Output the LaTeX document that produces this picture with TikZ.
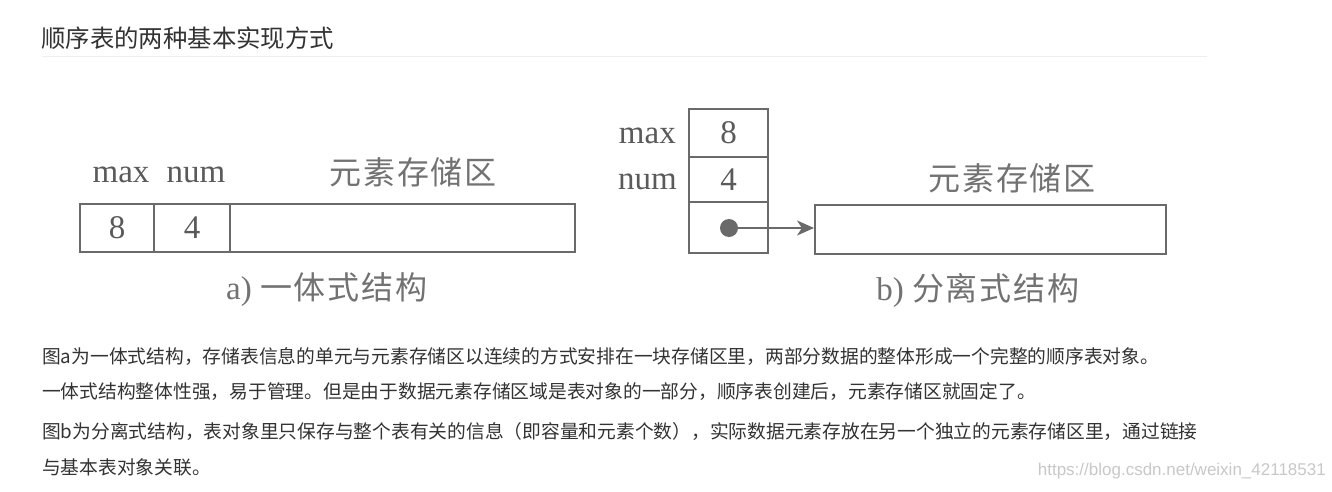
\documentclass[tikz,border=0pt]{standalone}
\usepackage{fontspec}
\setmainfont{Liberation Serif}
\newfontfamily\song{Noto Sans CJK SC}[LetterSpace=6]
\newfontfamily\cjksans{Noto Sans CJK SC}
\newfontfamily\wmfont{Liberation Sans}
\usetikzlibrary{arrows.meta}
\definecolor{ink}{HTML}{5A5A5A}
\definecolor{cjkink}{HTML}{727272}
\definecolor{frame}{HTML}{6A6A6A}
\definecolor{bodytext}{HTML}{333333}
\definecolor{rulecol}{HTML}{EEEEEE}
\definecolor{wm}{HTML}{C8C8C8}
\tikzset{
  cell/.style={draw=frame, line width=2pt, inner sep=0pt, text=ink,
    font=\fontsize{33}{33}\selectfont},
  lbl/.style={inner sep=0pt, text=ink, font=\fontsize{33}{33}\selectfont},
  cjklbl/.style={inner sep=0pt, text=cjkink, font=\song\fontsize{32}{32}\selectfont},
  body/.style={anchor=west, inner sep=0pt, text=bodytext,
    font=\cjksans\fontsize{18.75}{18.75}\selectfont},
  ptr/.style={draw=frame, line width=2pt, -{Stealth[length=17pt,width=15pt,inset=5pt]}}
}
\begin{document}
\begin{tikzpicture}[x=1pt,y=-1pt]
\useasboundingbox (0,0) rectangle (1332,492);
\fill[white] (0,0) rectangle (1332,492);
% title
\node[anchor=west, inner sep=0pt, text=bodytext, font=\cjksans\fontsize{24.4}{24.4}\selectfont] (title) at (41,38) {顺序表的两种基本实现方式};
\coordinate (r1) at (42,57);
\coordinate (r2) at (1207,57);
\draw[rulecol, line width=1pt] (r1) -- (r2);
% diagram a
\node[cell, minimum width=74, minimum height=48] (a1) at (117,228) {8};
\node[cell, minimum width=76, minimum height=48] (a2) at (192,228) {4};
\node[cell, minimum width=345, minimum height=48] (a3) at (402.5,228) {};
\node[lbl] (amax) at (121,175) {max};
\node[lbl] (anum) at (196,175) {num};
\node[cjklbl] (aarea) at (413,172) {元素存储区};
\node[lbl, text=cjkink] (acap) at (327,290) {a) {\song\fontsize{32}{32}\selectfont 一体式结构}};
% diagram b
\node[cell, minimum width=79, minimum height=48] (b1) at (728.5,133) {8};
\node[cell, minimum width=79, minimum height=45] (b2) at (728.5,179.5) {4};
\node[cell, minimum width=79, minimum height=51] (b3) at (728.5,227.5) {};
\node[lbl, anchor=east] (bmax) at (676,136) {max};
\node[lbl, anchor=east] (bnum) at (677,182) {num};
\node[cell, minimum width=351, minimum height=49] (bbox) at (990.5,229.5) {};
\node[cjklbl] (barea) at (1012,178) {元素存储区};
\node[lbl, text=cjkink] (bcap) at (978,290) {b) {\song\fontsize{32}{32}\selectfont 分离式结构}};
\node[circle, fill=frame, inner sep=0pt, minimum size=18] (dot) at (729,228) {};
\draw[ptr] (dot.center) -- (dot.center -| bbox.west);
% body text
\node[body] (l1) at (42,357) {图a为一体式结构，存储表信息的单元与元素存储区以连续的方式安排在一块存储区里，两部分数据的整体形成一个完整的顺序表对象。};
\node[body] (l2) at (42,392) {一体式结构整体性强，易于管理。但是由于数据元素存储区域是表对象的一部分，顺序表创建后，元素存储区就固定了。};
\node[body] (l3) at (42,431) {图b为分离式结构，表对象里只保存与整个表有关的信息（即容量和元素个数），实际数据元素存放在另一个独立的元素存储区里，通过链接};
\node[body] (l4) at (42,467) {与基本表对象关联。};
\node[anchor=east, inner sep=0pt, text=wm, font=\wmfont\fontsize{17}{17}\selectfont] (wmark) at (1326,471) {https://blog.csdn.net/weixin\_42118531};
\end{tikzpicture}
\end{document}
